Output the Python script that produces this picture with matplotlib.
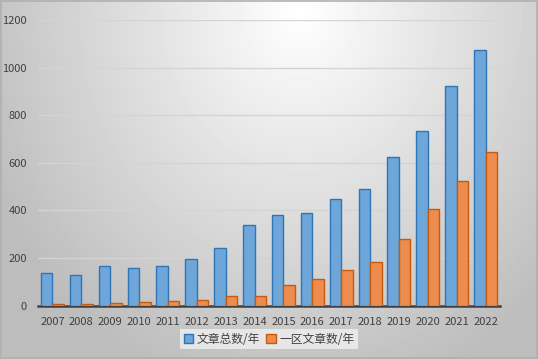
import numpy as np
import matplotlib
matplotlib.use('Agg')
from matplotlib import pyplot as plt

plt.rcParams['font.family'] = ['Noto Sans CJK SC', 'DejaVu Sans']

# 数据
years = ['2007', '2008', '2009', '2010', '2011', '2012', '2013', '2014',
         '2015', '2016', '2017', '2018', '2019', '2020', '2021', '2022']
total = [136, 127, 165, 156, 165, 194, 240, 337,
         379, 387, 446, 488, 623, 732, 921, 1076]
top = [5, 5, 10, 13, 18, 22, 39, 40,
       85, 110, 149, 181, 278, 404, 522, 644]
label_total = '文章总数/年'
label_top = '一区文章数/年'

fig = plt.figure(figsize=(5.38, 3.59), dpi=100)

# 背景渐变
bg = fig.add_axes([0, 0, 1, 1])
h, w = 359, 538
yy, xx = np.mgrid[0:h, 0:w]
d = np.sqrt(((xx - 300) / 330.0) ** 2 + ((yy - 10) / 380.0) ** 2)
grad = np.clip(1.0 - 0.25 * d, 0.74, 1.0)
bg.imshow(grad, cmap='gray', vmin=0, vmax=1, aspect='auto',
          extent=[0, 1, 0, 1], origin='upper')
bg.set_xlim(0, 1)
bg.set_ylim(0, 1)
bg.axis('off')
bg.add_patch(plt.Rectangle((0.001, 0.002), 0.997, 0.995, fill=False,
                           edgecolor='#b0b0b0', lw=1.2))

ax = fig.add_axes([38 / 538, 1 - 305.5 / 359, 462 / 538, 285.5 / 359])
ax.patch.set_alpha(0)

x = np.arange(len(years))
bw = 0.4
ax.bar(x - bw / 2, total, bw, color='#6ea6d9', edgecolor='#2e75b6',
       lw=1.0, label=label_total, zorder=3)
ax.bar(x + bw / 2, top, bw, color='#ed8c4c', edgecolor='#c55a11',
       lw=1.0, label=label_top, zorder=3)

ax.set_xlim(-0.5, len(years) - 0.5)
ax.set_ylim(0, 1200)
ax.set_yticks(range(0, 1201, 200))
ax.set_xticks(x)
ax.set_xticklabels(years)
ax.yaxis.grid(True, color='#d4d4d4', lw=1.0, zorder=0)
ax.set_axisbelow(True)
for s in ['top', 'right', 'left']:
    ax.spines[s].set_visible(False)
ax.spines['bottom'].set_color('#404040')
ax.spines['bottom'].set_linewidth(1.8)
ax.tick_params(axis='both', length=0, labelsize=8, colors='#404040')
ax.tick_params(axis='x', pad=8)
ax.tick_params(axis='y', pad=8)

leg = ax.legend(loc='upper center', bbox_to_anchor=(0.5, -0.062), ncol=2,
                frameon=True, fontsize=8.5, handlelength=0.8, handleheight=0.8,
                handletextpad=0.3, columnspacing=0.5, borderpad=0.3,
                fancybox=False)
leg.get_frame().set_facecolor('#ebebeb')
leg.get_frame().set_edgecolor('none')
leg.get_frame().set_alpha(0.9)
for t in leg.get_texts():
    t.set_color('#404040')

fig.savefig('out.png', dpi=100)
